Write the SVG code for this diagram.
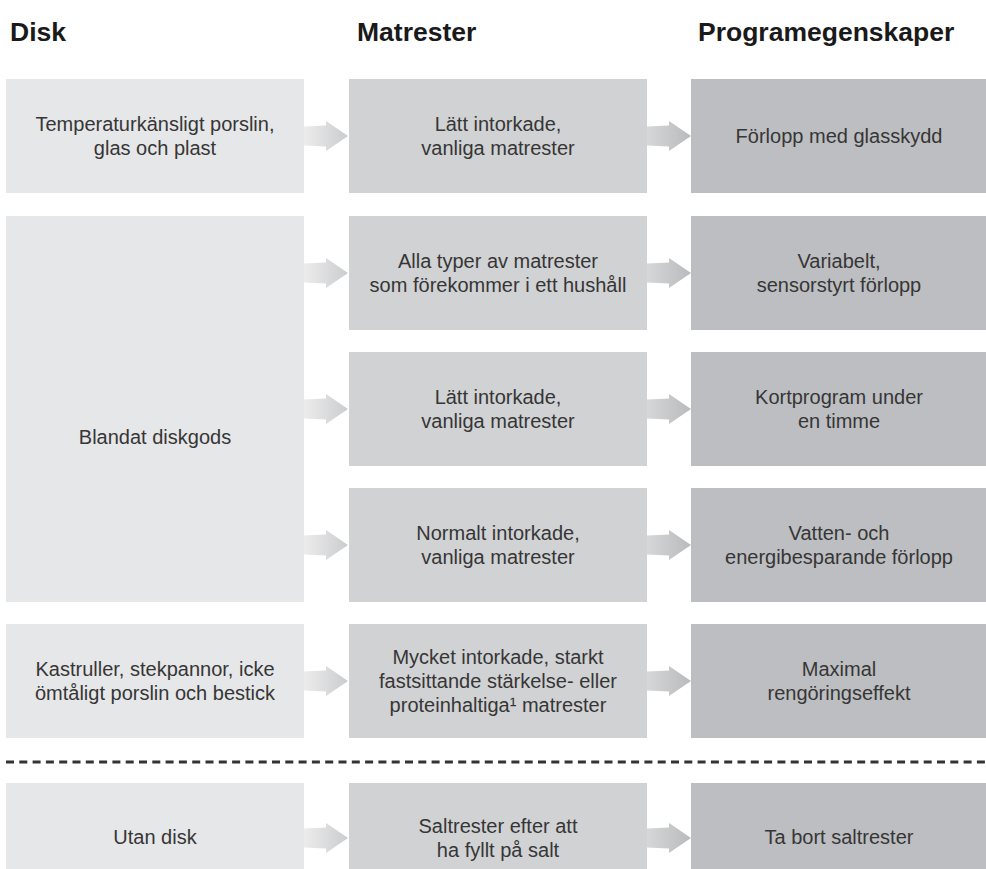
<svg xmlns="http://www.w3.org/2000/svg" width="986" height="869" viewBox="0 0 986 869">
<defs>
<linearGradient id="g1" x1="0" y1="0" x2="1" y2="0">
<stop offset="0" stop-color="#ececed"/>
<stop offset="1" stop-color="#cbcccd"/>
</linearGradient>
<linearGradient id="g2" x1="0" y1="0" x2="1" y2="0">
<stop offset="0" stop-color="#d6d7d8"/>
<stop offset="1" stop-color="#b9babc"/>
</linearGradient>
<polygon id="arr" points="0,-9.5 22,-10.5 22,-15 44,0 22,15 22,10.5 0,9.5"/>
<style>
.h{font-family:"Liberation Sans",Arial,sans-serif;font-weight:bold;font-size:26.5px;fill:#1a1a1a}
.t{font-family:"Liberation Sans",Arial,sans-serif;font-size:20px;fill:#363636;text-anchor:middle}
.c1{fill:#e6e7e8}
.c2{fill:#d1d2d4}
.c3{fill:#bdbec1}
</style>
</defs>
<rect width="986" height="869" fill="#ffffff"/>
<text class="h" x="10" y="41">Disk</text>
<text class="h" x="357" y="41">Matrester</text>
<text class="h" x="698" y="41">Programegenskaper</text>

<g id="connectors">
<use href="#arr" x="304" y="136" fill="url(#g1)"/>
<use href="#arr" x="647" y="136" fill="url(#g2)"/>
<use href="#arr" x="304" y="273" fill="url(#g1)"/>
<use href="#arr" x="647" y="273" fill="url(#g2)"/>
<use href="#arr" x="304" y="409" fill="url(#g1)"/>
<use href="#arr" x="647" y="409" fill="url(#g2)"/>
<use href="#arr" x="304" y="545" fill="url(#g1)"/>
<use href="#arr" x="647" y="545" fill="url(#g2)"/>
<use href="#arr" x="304" y="681" fill="url(#g1)"/>
<use href="#arr" x="647" y="681" fill="url(#g2)"/>
<use href="#arr" x="304" y="838" fill="url(#g1)"/>
<use href="#arr" x="647" y="838" fill="url(#g2)"/>
</g>

<g id="disk1"><rect class="c1" x="6" y="79" width="298" height="114"/>
<text class="t" x="155" y="131">Temperaturkänsligt porslin,</text>
<text class="t" x="155" y="155">glas och plast</text></g>
<g id="mat1"><rect class="c2" x="349" y="79" width="298" height="114"/>
<text class="t" x="498" y="131">Lätt intorkade,</text>
<text class="t" x="498" y="155">vanliga matrester</text></g>
<g id="prog1"><rect class="c3" x="691" y="79" width="295" height="114"/>
<text class="t" x="839" y="143">Förlopp med glasskydd</text></g>

<g id="disk2"><rect class="c1" x="6" y="216" width="298" height="386"/>
<text class="t" x="155" y="444">Blandat diskgods</text></g>
<g id="mat2"><rect class="c2" x="349" y="216" width="298" height="114"/>
<text class="t" x="498" y="268">Alla typer av matrester</text>
<text class="t" x="498" y="292">som förekommer i ett hushåll</text></g>
<g id="prog2"><rect class="c3" x="691" y="216" width="295" height="114"/>
<text class="t" x="839" y="268">Variabelt,</text>
<text class="t" x="839" y="292">sensorstyrt förlopp</text></g>
<g id="mat3"><rect class="c2" x="349" y="352" width="298" height="114"/>
<text class="t" x="498" y="404">Lätt intorkade,</text>
<text class="t" x="498" y="428">vanliga matrester</text></g>
<g id="prog3"><rect class="c3" x="691" y="352" width="295" height="114"/>
<text class="t" x="839" y="404">Kortprogram under</text>
<text class="t" x="839" y="428">en timme</text></g>
<g id="mat4"><rect class="c2" x="349" y="488" width="298" height="114"/>
<text class="t" x="498" y="540">Normalt intorkade,</text>
<text class="t" x="498" y="564">vanliga matrester</text></g>
<g id="prog4"><rect class="c3" x="691" y="488" width="295" height="114"/>
<text class="t" x="839" y="540">Vatten- och</text>
<text class="t" x="839" y="564">energibesparande förlopp</text></g>

<g id="disk3"><rect class="c1" x="6" y="624" width="298" height="114"/>
<text class="t" x="155" y="676">Kastruller, stekpannor, icke</text>
<text class="t" x="155" y="700">ömtåligt porslin och bestick</text></g>
<g id="mat5"><rect class="c2" x="349" y="624" width="298" height="114"/>
<text class="t" x="498" y="664">Mycket intorkade, starkt</text>
<text class="t" x="498" y="688">fastsittande stärkelse- eller</text>
<text class="t" x="498" y="712">proteinhaltiga¹ matrester</text></g>
<g id="prog5"><rect class="c3" x="691" y="624" width="295" height="114"/>
<text class="t" x="839" y="676">Maximal</text>
<text class="t" x="839" y="700">rengöringseffekt</text></g>

<line x1="6" y1="762" x2="986" y2="762" stroke="#333333" stroke-width="3" stroke-dasharray="8 5.3"/>

<g id="disk4"><rect class="c1" x="6" y="783" width="298" height="114"/>
<text class="t" x="155" y="844">Utan disk</text></g>
<g id="mat6"><rect class="c2" x="349" y="783" width="298" height="114"/>
<text class="t" x="498" y="833">Saltrester efter att</text>
<text class="t" x="498" y="857">ha fyllt på salt</text></g>
<g id="prog6"><rect class="c3" x="691" y="783" width="295" height="114"/>
<text class="t" x="839" y="844">Ta bort saltrester</text></g>
</svg>
